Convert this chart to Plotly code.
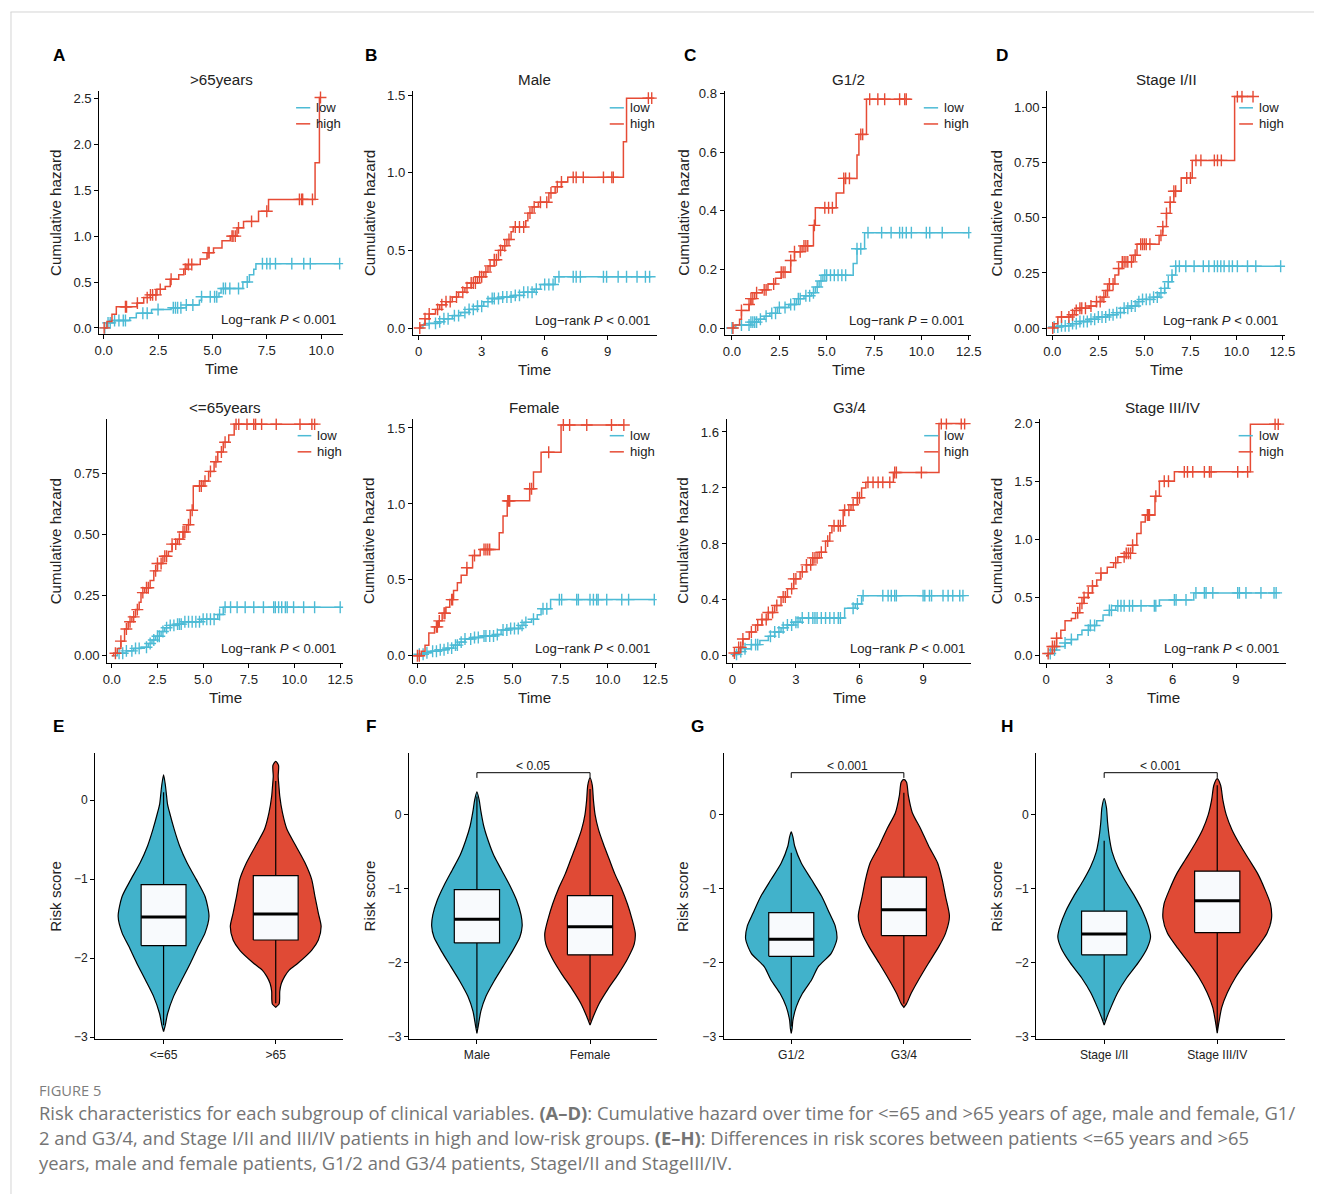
import numpy as np
import plotly.graph_objects as go

W, H = 1322, 1194          # figure size
PAGE_MARGIN = 8            # default body margin of the page
VIEW_SCALE_X, VIEW_SCALE_Y, VIEW_OFF = 0.989, 0.989, 4.6   # observed screen transform of the page
FS = 1 / VIEW_SCALE_X      # font compensation
TEAL, RED = "#4DBBD5", "#E64B35"
TEAL_FILL, RED_FILL = "#41B2CB", "#E04A35"
FONT = "Liberation Sans, Arial, sans-serif"
INK = "#222222"

# ------------------------------------------------------------------ KM data
# A  >65years
A_high_t = [0.15, 0.38, 0.58, 1.53, 1.84, 2.14, 2.45, 2.83, 3.06, 3.45, 3.68, 3.83, 4.44, 4.75, 5.05, 5.44, 5.82, 6.13, 6.43, 7.12, 7.58, 9.72, 9.92]
A_high_h = [0.07, 0.15, 0.23, 0.27, 0.33, 0.36, 0.42, 0.45, 0.53, 0.58, 0.64, 0.69, 0.75, 0.82, 0.87, 0.95, 1.00, 1.09, 1.16, 1.27, 1.40, 1.80, 2.51]
A_high_c = [0.02, 1.0, 1.05, 1.55, 2.0, 2.15, 2.25, 2.4, 2.6, 3.1, 3.75, 3.9, 4.05, 4.8, 4.85, 5.9, 5.95, 6.05, 6.2, 6.8, 7.5, 9.0, 9.1, 9.15, 9.6, 9.97]
A_low_t = [0.15, 0.5, 1.2, 1.5, 2.2, 3.1, 3.8, 4.4, 4.5, 5.3, 5.4, 6.4, 6.7, 6.9, 7.0]
A_low_h = [0.055, 0.08, 0.11, 0.16, 0.2, 0.22, 0.25, 0.30, 0.34, 0.38, 0.43, 0.50, 0.58, 0.64, 0.70]
A_low_c = [0.05, 0.2, 0.3, 0.5, 0.7, 0.9, 1.0, 1.8, 2.0, 2.5, 3.2, 3.3, 3.4, 3.55, 3.8, 4.1, 4.5, 4.9, 5.1, 5.2, 5.5, 5.6, 5.8, 6.2, 6.6, 7.3, 7.5, 7.65, 7.9, 8.65, 9.2, 9.5, 10.85]

# B  Male
B_high_t = [0.1, 0.3, 0.5, 0.8, 1.0, 1.3, 1.6, 1.9, 2.2, 2.5, 2.8, 3.1, 3.3, 3.6, 3.8, 4.0, 4.2, 4.4, 4.5, 5.1, 5.2, 5.4, 5.7, 6.2, 6.5, 6.8, 7.1, 9.75, 9.9]
B_high_h = [0.02, 0.06, 0.09, 0.12, 0.15, 0.17, 0.2, 0.23, 0.26, 0.29, 0.33, 0.36, 0.4, 0.44, 0.5, 0.53, 0.57, 0.62, 0.65, 0.69, 0.74, 0.78, 0.81, 0.87, 0.91, 0.94, 0.97, 1.2, 1.48]
B_high_c = [0.05, 0.3, 0.5, 0.9, 1.1, 1.3, 1.5, 1.8, 2.1, 2.3, 2.5, 2.6, 2.7, 2.9, 3.0, 3.2, 3.4, 3.6, 3.7, 3.9, 4.1, 4.3, 4.6, 4.8, 5.0, 5.3, 5.5, 5.8, 6.1, 6.3, 6.6, 6.8, 7.36, 7.5, 7.84, 8.8, 9.2, 9.27, 10.94, 11.1]
B_low_t = [0.2, 0.5, 0.9, 1.2, 1.6, 2.0, 2.4, 2.8, 3.1, 3.5, 4.0, 4.5, 5.0, 5.5, 5.8, 6.5]
B_low_h = [0.02, 0.03, 0.04, 0.06, 0.08, 0.1, 0.12, 0.14, 0.17, 0.19, 0.2, 0.21, 0.23, 0.25, 0.28, 0.33]
B_low_c = [0.5, 0.8, 1.0, 1.2, 1.4, 1.7, 1.9, 2.2, 2.4, 2.6, 2.8, 3.0, 3.3, 3.5, 3.6, 3.8, 4.0, 4.2, 4.4, 4.6, 4.8, 5.0, 5.2, 5.4, 5.6, 6.0, 6.2, 6.4, 6.68, 7.36, 7.5, 7.7, 8.8, 8.95, 9.5, 9.9, 10.4, 10.8, 11.0]

# C  G1/2
C_high_t = [0.1, 0.4, 0.5, 0.9, 1.0, 1.2, 1.6, 1.9, 2.3, 2.6, 3.1, 3.3, 3.7, 4.3, 4.4, 5.5, 5.9, 6.6, 6.7, 7.1]
C_high_h = [0.01, 0.03, 0.06, 0.08, 0.1, 0.12, 0.13, 0.15, 0.17, 0.19, 0.23, 0.26, 0.28, 0.35, 0.41, 0.46, 0.51, 0.59, 0.66, 0.78]
C_high_c = [0.05, 0.5, 0.9, 1.0, 1.1, 1.3, 1.7, 1.8, 2.2, 2.6, 2.7, 2.8, 3.1, 3.3, 3.6, 3.8, 3.9, 4.0, 4.35, 4.9, 5.1, 5.3, 5.9, 6.0, 6.2, 6.8, 6.9, 7.27, 7.7, 8.06, 8.85, 9.12, 9.2]
C_low_t = [0.2, 1.0, 1.4, 1.7, 2.0, 2.4, 3.0, 3.4, 3.8, 4.2, 4.4, 4.6, 4.8, 6.4, 6.6, 7.0]
C_low_h = [0.01, 0.02, 0.03, 0.04, 0.05, 0.07, 0.08, 0.1, 0.11, 0.12, 0.14, 0.16, 0.18, 0.22, 0.27, 0.325]
C_low_c = [0.0, 0.5, 0.9, 1.0, 1.1, 1.2, 1.3, 1.5, 1.8, 2.1, 2.3, 2.5, 2.8, 3.1, 3.3, 3.5, 3.6, 3.9, 4.1, 4.3, 4.5, 4.7, 4.9, 5.0, 5.2, 5.4, 5.6, 5.8, 6.0, 6.6, 6.8, 7.18, 7.9, 8.4, 8.85, 9.0, 9.2, 9.47, 10.26, 10.44, 11.1, 12.5]

# D  Stage I/II
D_high_t = [0.1, 0.3, 1.0, 1.2, 1.5, 2.0, 2.4, 2.7, 2.9, 3.1, 3.4, 3.6, 3.8, 4.4, 4.6, 5.8, 6.0, 6.2, 6.4, 6.6, 7.0, 7.6, 9.9]
D_high_h = [0.02, 0.05, 0.06, 0.08, 0.09, 0.1, 0.12, 0.14, 0.17, 0.2, 0.24, 0.27, 0.3, 0.33, 0.38, 0.42, 0.46, 0.52, 0.57, 0.62, 0.68, 0.76, 1.05]
D_high_c = [0.02, 0.5, 0.9, 1.1, 1.3, 1.5, 1.6, 1.8, 2.1, 2.4, 2.6, 2.8, 3.0, 3.1, 3.3, 3.6, 3.8, 3.9, 4.0, 4.1, 4.3, 4.5, 4.8, 4.9, 5.0, 5.1, 5.3, 5.9, 6.0, 6.2, 6.4, 6.6, 6.7, 7.3, 7.5, 7.8, 8.07, 8.8, 8.97, 9.18, 10.05, 10.3, 10.9]
D_low_t = [0.1, 0.5, 1.0, 1.5, 2.0, 2.5, 3.0, 3.5, 3.9, 4.3, 4.6, 4.9, 5.5, 5.8, 6.1, 6.3, 6.5, 6.7]
D_low_h = [0.005, 0.01, 0.02, 0.03, 0.04, 0.05, 0.06, 0.07, 0.09, 0.1, 0.12, 0.13, 0.14, 0.16, 0.18, 0.21, 0.24, 0.28]
D_low_c = [0.1, 0.3, 0.5, 0.7, 0.9, 1.1, 1.3, 1.5, 1.7, 1.9, 2.1, 2.3, 2.5, 2.7, 2.9, 3.1, 3.3, 3.5, 3.7, 3.9, 4.1, 4.3, 4.5, 4.7, 4.9, 5.1, 5.3, 5.5, 5.7, 5.9, 6.1, 6.3, 6.5, 6.7, 6.9, 7.25, 7.7, 8.2, 8.5, 8.8, 8.97, 9.15, 9.33, 9.6, 9.78, 10.05, 10.6, 11.05, 12.4]

# <=65years
E_high_t = [0.1, 0.3, 0.5, 0.7, 0.9, 1.1, 1.3, 1.5, 1.6, 1.8, 2.1, 2.3, 2.5, 2.8, 3.1, 3.3, 3.6, 3.9, 4.1, 4.3, 4.46, 5.0, 5.3, 5.6, 5.8, 6.1, 6.4, 6.7]
E_high_h = [0.01, 0.03, 0.06, 0.11, 0.14, 0.16, 0.19, 0.22, 0.26, 0.28, 0.31, 0.35, 0.38, 0.41, 0.43, 0.46, 0.48, 0.51, 0.54, 0.6, 0.7, 0.72, 0.76, 0.8, 0.84, 0.88, 0.91, 0.955]
E_high_c = [0.2, 0.5, 0.8, 1.0, 1.2, 1.4, 1.7, 1.9, 2.0, 2.4, 2.5, 2.7, 2.9, 3.0, 3.3, 3.5, 3.7, 3.9, 4.0, 4.2, 4.4, 4.8, 4.9, 5.1, 5.4, 5.7, 6.0, 6.2, 6.8, 6.95, 7.4, 7.77, 7.87, 8.2, 9.0, 10.3, 10.95, 11.1]
E_low_t = [0.3, 0.8, 1.2, 1.6, 2.0, 2.2, 2.4, 2.7, 2.9, 3.2, 3.6, 3.9, 4.9, 5.8, 6.1]
E_low_h = [0.01, 0.02, 0.03, 0.035, 0.05, 0.065, 0.08, 0.1, 0.115, 0.125, 0.13, 0.14, 0.15, 0.17, 0.2]
E_low_c = [0.4, 0.6, 0.8, 1.1, 1.3, 1.5, 1.9, 2.1, 2.3, 2.5, 2.6, 2.8, 3.0, 3.2, 3.4, 3.6, 3.7, 3.8, 4.0, 4.2, 4.4, 4.6, 4.8, 5.0, 5.2, 5.4, 5.6, 5.9, 6.2, 6.5, 6.86, 7.3, 7.77, 8.3, 8.86, 8.95, 9.13, 9.3, 9.5, 9.6, 9.95, 10.5, 11.1, 12.5]

# Female
F_high_t = [0.2, 0.4, 0.6, 0.9, 1.1, 1.3, 1.5, 1.7, 1.9, 2.1, 2.3, 2.6, 2.9, 3.3, 4.3, 4.5, 4.72, 5.9, 6.1, 6.5, 7.55]
F_high_h = [0.03, 0.07, 0.15, 0.19, 0.23, 0.28, 0.32, 0.37, 0.43, 0.48, 0.53, 0.58, 0.66, 0.7, 0.81, 0.92, 1.02, 1.1, 1.21, 1.34, 1.52]
F_high_c = [0.0, 0.1, 1.0, 1.05, 1.15, 1.4, 1.45, 1.8, 1.85, 2.6, 3.0, 3.5, 3.6, 3.7, 3.8, 4.75, 4.8, 4.85, 5.9, 6.0, 6.9, 7.67, 8.0, 8.9, 10.2, 10.85]
F_low_t = [0.1, 0.4, 0.7, 1.1, 1.5, 1.9, 2.2, 2.5, 2.9, 3.4, 4.1, 4.4, 4.8, 5.4, 5.6, 6.0, 6.3, 6.5, 7.0]
F_low_h = [0.01, 0.02, 0.03, 0.04, 0.05, 0.07, 0.09, 0.11, 0.12, 0.13, 0.14, 0.17, 0.18, 0.2, 0.22, 0.24, 0.27, 0.31, 0.37]
F_low_c = [0.1, 0.3, 0.5, 0.8, 1.0, 1.2, 1.4, 1.6, 1.8, 2.0, 2.1, 2.3, 2.5, 2.8, 3.0, 3.2, 3.5, 3.6, 3.8, 4.0, 4.2, 4.5, 4.7, 4.9, 5.1, 5.3, 5.5, 5.7, 6.1, 6.6, 6.8, 7.46, 7.58, 8.37, 8.46, 9.07, 9.25, 9.42, 9.5, 9.95, 10.74, 11.1, 12.45]

# G3/4
G_high_t = [0.1, 0.3, 0.5, 0.8, 1.1, 1.4, 1.7, 2.0, 2.3, 2.6, 2.9, 3.2, 3.5, 3.8, 4.1, 4.4, 4.6, 4.7, 5.23, 5.6, 5.9, 6.1, 6.3, 7.6, 9.75]
G_high_h = [0.02, 0.06, 0.12, 0.17, 0.22, 0.26, 0.31, 0.36, 0.42, 0.48, 0.55, 0.6, 0.65, 0.7, 0.74, 0.82, 0.88, 0.93, 1.04, 1.08, 1.13, 1.2, 1.24, 1.31, 1.66]
G_high_c = [0.1, 0.3, 0.4, 0.5, 0.9, 1.2, 1.4, 1.6, 1.7, 1.9, 2.1, 2.4, 2.5, 2.8, 2.9, 3.0, 3.3, 3.5, 3.7, 3.8, 3.9, 4.0, 4.2, 4.5, 4.8, 5.0, 5.1, 5.3, 5.5, 5.7, 5.9, 6.0, 6.4, 6.64, 6.88, 7.1, 7.43, 7.66, 7.74, 8.92, 9.86, 10.1, 10.8, 10.96]
G_low_t = [0.1, 0.3, 0.6, 0.9, 1.3, 1.7, 2.0, 2.3, 2.6, 2.9, 3.2, 5.3, 5.8, 6.1]
G_low_h = [0.01, 0.03, 0.05, 0.08, 0.11, 0.14, 0.17, 0.2, 0.22, 0.24, 0.27, 0.34, 0.37, 0.43]
G_low_c = [0.2, 0.4, 0.6, 0.9, 1.1, 1.2, 1.8, 2.0, 2.2, 2.4, 2.6, 2.8, 3.0, 3.1, 3.3, 3.6, 3.8, 3.9, 4.0, 4.2, 4.4, 4.6, 4.8, 5.0, 5.1, 5.7, 5.9, 6.17, 7.1, 7.35, 7.5, 7.66, 7.74, 9.0, 9.08, 9.3, 9.4, 9.94, 10.18, 10.4, 10.73, 10.88]

# Stage III/IV
H_high_t = [0.1, 0.3, 0.5, 0.7, 0.9, 1.2, 1.4, 1.6, 1.8, 2.0, 2.2, 2.4, 2.6, 2.9, 3.2, 3.4, 3.8, 4.1, 4.3, 4.5, 4.7, 5.16, 5.37, 6.08, 9.68]
H_high_h = [0.02, 0.08, 0.15, 0.22, 0.3, 0.32, 0.37, 0.45, 0.5, 0.54, 0.6, 0.65, 0.71, 0.76, 0.8, 0.85, 0.88, 0.95, 1.05, 1.15, 1.21, 1.37, 1.5, 1.58, 1.99]
H_high_c = [0.1, 0.3, 0.4, 0.5, 1.5, 1.7, 1.8, 2.0, 2.2, 2.6, 3.3, 3.7, 3.8, 3.9, 4.0, 4.1, 4.8, 4.85, 4.9, 5.2, 5.6, 5.8, 6.55, 6.7, 6.95, 7.5, 7.74, 7.82, 9.08, 9.55, 10.85, 11.0]
H_low_t = [0.1, 0.3, 0.5, 0.9, 1.2, 1.5, 1.7, 2.1, 2.4, 2.7, 3.0, 3.3, 5.37, 7.0]
H_low_h = [0.02, 0.05, 0.08, 0.11, 0.14, 0.18, 0.22, 0.26, 0.3, 0.35, 0.39, 0.43, 0.48, 0.54]
H_low_c = [0.2, 0.4, 0.9, 1.2, 2.0, 2.1, 2.3, 3.0, 3.1, 3.4, 3.55, 3.7, 3.95, 4.1, 4.5, 5.13, 5.2, 6.08, 6.16, 6.63, 7.1, 7.5, 7.58, 7.9, 9.08, 9.16, 9.47, 10.18, 10.8, 10.9]

KM_TITLES = [">65years", "Male", "G1/2", "Stage I/II", "<=65years", "Female", "G3/4", "Stage III/IV"]
KM_PVALUES = ["< 0.001", "< 0.001", "= 0.001", "< 0.001", "< 0.001", "< 0.001", "< 0.001", "< 0.001"]
KM_XTICKS = [[0, 2.5, 5, 7.5, 10], [0, 3, 6, 9], [0, 2.5, 5, 7.5, 10, 12.5], [0, 2.5, 5, 7.5, 10, 12.5],
             [0, 2.5, 5, 7.5, 10, 12.5], [0, 2.5, 5, 7.5, 10, 12.5], [0, 3, 6, 9], [0, 3, 6, 9]]
KM_YTICKS = [[0, 0.5, 1, 1.5, 2, 2.5], [0, 0.5, 1, 1.5], [0, 0.2, 0.4, 0.6, 0.8], [0, 0.25, 0.5, 0.75, 1.0],
             [0, 0.25, 0.5, 0.75], [0, 0.5, 1, 1.5], [0, 0.4, 0.8, 1.2, 1.6], [0, 0.5, 1, 1.5, 2]]

# ------------------------------------------------------------------ violin data
VIO_CATS = [["<=65", ">65"], ["Male", "Female"], ["G1/2", "G3/4"], ["Stage I/II", "Stage III/IV"]]
VIO_P = [None, "< 0.05", "< 0.001", "< 0.001"]
# density outlines: risk-score levels and half widths (category units)
E1_y = [0.32, 0.2, 0.09, -0.05, -0.16, -0.37, -0.58, -0.79, -1.0, -1.22, -1.47, -1.68, -1.85, -2.06, -2.27, -2.48, -2.7, -2.85, -2.93]
E1_w = [0, 0.015, 0.024, 0.035, 0.054, 0.095, 0.143, 0.208, 0.29, 0.37, 0.405, 0.37, 0.31, 0.24, 0.164, 0.09, 0.036, 0.015, 0]
E2_y = [0.49, 0.44, 0.3, 0.15, 0.05, -0.16, -0.37, -0.58, -0.79, -1.0, -1.22, -1.43, -1.6, -1.77, -1.9, -2.06, -2.15, -2.23, -2.32, -2.42, -2.52, -2.58, -2.62]
E2_w = [0, 0.025, 0.022, 0.03, 0.036, 0.06, 0.10, 0.18, 0.26, 0.32, 0.35, 0.38, 0.405, 0.38, 0.32, 0.2, 0.12, 0.08, 0.05, 0.036, 0.035, 0.03, 0]
F1_y = [0.31, 0.2, 0.05, -0.15, -0.35, -0.55, -0.75, -0.95, -1.15, -1.35, -1.5, -1.65, -1.85, -2.05, -2.25, -2.45, -2.65, -2.85, -2.95]
F1_w = [0, 0.02, 0.035, 0.06, 0.1, 0.15, 0.22, 0.29, 0.35, 0.39, 0.40, 0.38, 0.31, 0.23, 0.15, 0.08, 0.035, 0.012, 0]
F2_y = [0.5, 0.4, 0.2, 0.0, -0.2, -0.4, -0.6, -0.8, -1.0, -1.2, -1.4, -1.6, -1.75, -1.95, -2.15, -2.35, -2.55, -2.72, -2.84]
F2_w = [0, 0.02, 0.03, 0.045, 0.075, 0.12, 0.17, 0.22, 0.28, 0.33, 0.37, 0.40, 0.39, 0.33, 0.25, 0.16, 0.08, 0.03, 0]
G1_y = [-0.23, -0.3, -0.42, -0.65, -0.87, -1.1, -1.33, -1.5, -1.68, -1.87, -2.05, -2.23, -2.41, -2.59, -2.77, -2.88, -2.95]
G1_w = [0, 0.015, 0.03, 0.089, 0.178, 0.27, 0.34, 0.39, 0.405, 0.355, 0.24, 0.18, 0.10, 0.045, 0.015, 0.008, 0]
G2_y = [0.48, 0.44, 0.26, 0.03, -0.19, -0.42, -0.65, -0.87, -1.1, -1.37, -1.6, -1.78, -2.0, -2.23, -2.41, -2.55, -2.6]
G2_w = [0, 0.024, 0.04, 0.075, 0.15, 0.22, 0.3, 0.34, 0.37, 0.405, 0.37, 0.31, 0.22, 0.13, 0.065, 0.024, 0]
H1_y = [0.22, 0.1, -0.1, -0.3, -0.5, -0.7, -0.9, -1.1, -1.3, -1.5, -1.65, -1.8, -2.0, -2.2, -2.4, -2.6, -2.75, -2.84]
H1_w = [0, 0.02, 0.03, 0.045, 0.07, 0.12, 0.19, 0.27, 0.34, 0.39, 0.41, 0.38, 0.3, 0.2, 0.12, 0.06, 0.02, 0]
H2_y = [0.49, 0.4, 0.2, 0.0, -0.2, -0.4, -0.6, -0.8, -1.0, -1.2, -1.4, -1.6, -1.8, -2.0, -2.2, -2.4, -2.6, -2.8, -2.95]
H2_w = [0, 0.03, 0.05, 0.08, 0.13, 0.2, 0.28, 0.36, 0.42, 0.47, 0.48, 0.44, 0.35, 0.25, 0.16, 0.09, 0.04, 0.015, 0]
# box statistics: q1, median, q3, lower whisker, upper whisker
E1_box = [-1.84, -1.48, -1.07, -2.85, 0.10]
E2_box = [-1.77, -1.44, -0.955, -2.57, 0.24]
F1_box = [-1.73, -1.41, -1.01, -2.88, 0.25]
F2_box = [-1.89, -1.51, -1.09, -2.78, 0.35]
G1_box = [-1.91, -1.68, -1.32, -2.86, -0.51]
G2_box = [-1.63, -1.28, -0.84, -2.55, 0.30]
H1_box = [-1.89, -1.61, -1.30, -2.78, -0.35]
H2_box = [-1.59, -1.16, -0.76, -2.90, 0.40]

# ------------------------------------------------------------------ layout (target pixels)
KM_BOX = [(99, 343, 90, 333), (413, 657, 90, 334), (725, 972, 90, 334), (1048, 1286, 90, 334),
          (107, 343, 417, 661), (413, 657, 417, 661), (727, 972, 417, 661), (1041, 1287, 417, 661)]
KM_XR = [(-0.198, 11.01), (-0.27, 11.34), (-0.385, 12.64), (-0.27, 12.64),
         (-0.24, 12.66), (-0.23, 12.58), (-0.264, 11.28), (-0.27, 11.37)]
KM_YR = [(-0.07, 2.584), (-0.047, 1.528), (-0.025, 0.809), (-0.033, 1.076),
         (-0.031, 0.978), (-0.049, 1.562), (-0.053, 1.696), (-0.064, 2.038)]
VIO_BOX = [(95, 343, 751, 1036), (409, 657, 751, 1036), (724, 972, 751, 1036), (1037, 1286, 751, 1036)]
VIO_XR = [(-0.608, 1.601), (-0.60, 1.59), (-0.6, 1.6), (-0.6, 1.6)]
VIO_YR = [(-3.025, 0.59), (-3.03, 0.83), (-3.03, 0.83), (-3.03, 0.83)]
COL_YTITLE_X = [55, 369, 683, 997]
LETTERS = [("A", 59, 54), ("B", 371, 54), ("C", 690, 54), ("D", 1003, 54),
           ("E", 58, 724), ("F", 371, 724), ("G", 698, 724), ("H", 1008, 724)]

fig = go.Figure()
shapes, annos = [], []


def sid(n):
    return "" if n == 1 else str(n)


def px(xr):
    return ((xr - VIEW_OFF) / VIEW_SCALE_X - PAGE_MARGIN) / W


def py(yr):
    return 1 - ((yr - VIEW_OFF) / VIEW_SCALE_Y - PAGE_MARGIN) / H


def fnt(size, color=INK, family=FONT):
    return dict(family=family, size=size * FS, color=color)


def axis_common(size=13):
    return dict(showline=True, linecolor="black", linewidth=1.2, ticks="outside", ticklen=4,
                tickwidth=1, tickcolor="black", showgrid=False, zeroline=False, tickfont=fnt(size))


def ann(text, x, y, size, **kw):
    d = dict(text=text, x=x, y=y, xref="paper", yref="paper", showarrow=False, xanchor="center",
             yanchor="middle", font=fnt(size))
    d.update(kw)
    return d


km_sets = [
    (A_high_t, A_high_h, A_high_c, A_low_t, A_low_h, A_low_c),
    (B_high_t, B_high_h, B_high_c, B_low_t, B_low_h, B_low_c),
    (C_high_t, C_high_h, C_high_c, C_low_t, C_low_h, C_low_c),
    (D_high_t, D_high_h, D_high_c, D_low_t, D_low_h, D_low_c),
    (E_high_t, E_high_h, E_high_c, E_low_t, E_low_h, E_low_c),
    (F_high_t, F_high_h, F_high_c, F_low_t, F_low_h, F_low_c),
    (G_high_t, G_high_h, G_high_c, G_low_t, G_low_h, G_low_c),
    (H_high_t, H_high_h, H_high_c, H_low_t, H_low_h, H_low_c),
]


def add_km(n, t, h, c, color):
    t = np.asarray(t, float)
    h = np.asarray(h, float)
    c = np.asarray(c, float)
    end = max(c.max(), t.max())
    xs = np.concatenate([[0.0], t, [end]])
    ys = np.concatenate([[0.0], h, [h[-1]]])
    idx = np.searchsorted(t, c, side="right")
    cy = np.where(idx > 0, h[np.maximum(idx - 1, 0)], 0.0)
    xa, ya = "x" + sid(n), "y" + sid(n)
    fig.add_trace(go.Scatter(x=xs, y=ys, mode="lines", line=dict(color=color, width=1.5, shape="hv"),
                             xaxis=xa, yaxis=ya, showlegend=False, hoverinfo="skip"))
    fig.add_trace(go.Scatter(x=c, y=cy, mode="markers",
                             marker=dict(symbol="cross-thin", size=8.5, color=color, line=dict(color=color, width=1.4)),
                             xaxis=xa, yaxis=ya, showlegend=False, hoverinfo="skip"))


layout_axes = {}
for i in range(8):
    n = i + 1
    x0, x1, y0, y1 = KM_BOX[i]
    ht, hh, hc, lt, lh, lc = km_sets[i]
    add_km(n, lt, lh, lc, TEAL)
    add_km(n, ht, hh, hc, RED)
    xt = KM_XTICKS[i]
    yt = KM_YTICKS[i]
    xfmt = ".1f" if any(v != int(v) for v in xt) else "d"
    yfmt = ".2f" if any(round(v * 100) % 10 for v in yt) else ".1f"
    xa = axis_common()
    xa.update(domain=[px(x0), px(x1)], range=list(KM_XR[i]), anchor="y" + sid(n), tickvals=xt, tickformat=xfmt)
    ya = axis_common()
    ya.update(domain=[py(y1), py(y0)], range=list(KM_YR[i]), anchor="x" + sid(n), tickvals=yt, tickformat=yfmt)
    layout_axes["xaxis" + sid(n)] = xa
    layout_axes["yaxis" + sid(n)] = ya
    dom = "x" + sid(n) + " domain"
    ydom = "y" + sid(n) + " domain"
    cx = (x0 + x1) / 2
    annos.append(ann(KM_TITLES[i].replace("<", "&lt;").replace(">", "&gt;"), px(cx), py(y0 - 11), 15))
    annos.append(ann("Time", px(cx), py(y1 + 34.5), 15))
    annos.append(ann("Cumulative hazard", px(COL_YTITLE_X[i % 4]), py((y0 + y1) / 2), 15, textangle=-90))
    annos.append(dict(text="Log\u2212rank <i>P</i> " + KM_PVALUES[i], x=0.98, y=0.062, xref=dom, yref=ydom,
                      xanchor="right", yanchor="middle", showarrow=False, font=fnt(13)))
    for k, (lab, col) in enumerate([("low", TEAL), ("high", RED)]):
        yy = 0.93 - 0.066 * k
        shapes.append(dict(type="line", xref=dom, yref=ydom, x0=0.807, x1=0.865, y0=yy, y1=yy,
                           line=dict(color=col, width=1.5)))
        annos.append(dict(text=lab, x=0.88, y=yy, xref=dom, yref=ydom, xanchor="left", yanchor="middle",
                          showarrow=False, font=fnt(13)))

vio_sets = [
    ((E1_y, E1_w, E1_box), (E2_y, E2_w, E2_box)),
    ((F1_y, F1_w, F1_box), (F2_y, F2_w, F2_box)),
    ((G1_y, G1_w, G1_box), (G2_y, G2_w, G2_box)),
    ((H1_y, H1_w, H1_box), (H2_y, H2_w, H2_box)),
]

BOX_HALF = 0.2
for j in range(4):
    n = 9 + j
    x0, x1, y0, y1 = VIO_BOX[j]
    xa_id, ya_id = "x" + sid(n), "y" + sid(n)
    common = dict(xaxis=xa_id, yaxis=ya_id, showlegend=False, hoverinfo="skip")
    for ci, ((vy, vw, bx), fillc) in enumerate(zip(vio_sets[j], [TEAL_FILL, RED_FILL])):
        vy = np.asarray(vy, float)
        vw = np.asarray(vw, float)
        xs = np.concatenate([ci - vw, (ci + vw)[::-1]])
        ys = np.concatenate([vy, vy[::-1]])
        fig.add_trace(go.Scatter(x=xs, y=ys, mode="lines", fill="toself", fillcolor=fillc,
                                 line=dict(color="black", width=1.2, shape="spline", smoothing=0.7), **common))
        q1, med, q3, lf, uf = bx
        fig.add_trace(go.Scatter(x=[ci, ci, None, ci, ci], y=[q3, uf, None, lf, q1], mode="lines",
                                 line=dict(color="black", width=1.2), **common))
        fig.add_trace(go.Scatter(x=[ci - BOX_HALF, ci + BOX_HALF, ci + BOX_HALF, ci - BOX_HALF, ci - BOX_HALF],
                                 y=[q1, q1, q3, q3, q1], mode="lines", fill="toself", fillcolor="#F8FAFD",
                                 line=dict(color="black", width=1.2), **common))
        fig.add_trace(go.Scatter(x=[ci - BOX_HALF, ci + BOX_HALF], y=[med, med], mode="lines",
                                 line=dict(color="black", width=3), **common))
    xa = axis_common(12)
    xa.update(domain=[px(x0), px(x1)], range=list(VIO_XR[j]), anchor=ya_id, tickvals=[0, 1],
              ticktext=VIO_CATS[j])
    ya = axis_common(12)
    ya.update(domain=[py(y1), py(y0)], range=list(VIO_YR[j]), anchor=xa_id, tickvals=[0, -1, -2, -3])
    layout_axes["xaxis" + sid(n)] = xa
    layout_axes["yaxis" + sid(n)] = ya
    annos.append(ann("Risk score", px(COL_YTITLE_X[j]), py((y0 + y1) / 2), 15, textangle=-90))
    if VIO_P[j]:
        yb, yt_ = 0.50, 0.57
        shapes.append(dict(type="path", xref=xa_id, yref=ya_id,
                           path=f"M 0,{yb} L 0,{yt_} L 1,{yt_} L 1,{yb}", line=dict(color="black", width=1)))
        annos.append(dict(text=VIO_P[j], x=0.5, y=yt_, xref=xa_id, yref=ya_id, xanchor="center", yanchor="bottom",
                          showarrow=False, yshift=-2, font=fnt(12)))

for lab, lx, ly in LETTERS:
    annos.append(ann("<b>" + lab + "</b>", px(lx), py(ly), 17, font=fnt(17, "black")))

# caption
CAP_FONT = "Open Sans, Noto Sans, sans-serif"
annos.append(ann("FIGURE 5", px(36.5), py(1087), 14.5, xanchor="left", font=fnt(14.5, "#7d7d7d", CAP_FONT)))
cap_lines = [
    "Risk characteristics for each subgroup of clinical variables. <b>(A\u2013D)</b>: Cumulative hazard over time for &lt;=65 and &gt;65 years of age, male and female, G1/",
    "2 and G3/4, and Stage I/II and III/IV patients in high and low-risk groups. <b>(E\u2013H)</b>: Differences in risk scores between patients &lt;=65 years and &gt;65",
    "years, male and female patients, G1/2 and G3/4 patients, StageI/II and StageIII/IV.",
]
for k, line in enumerate(cap_lines):
    annos.append(ann(line, px(36.5), py(1109.5 + 24.5 * k), 18.2, xanchor="left",
                     font=fnt(18.2, "#747474", CAP_FONT)))

shapes.append(dict(type="line", xref="paper", yref="paper", x0=px(10), x1=1, y0=py(11.5), y1=py(11.5),
                   line=dict(color="#d4d4d4", width=1)))
shapes.append(dict(type="line", xref="paper", yref="paper", x0=px(10.5), x1=px(10.5), y0=py(11.5), y1=0,
                   line=dict(color="#d4d4d4", width=1)))

fig.update_layout(width=W, height=H, margin=dict(l=0, r=0, t=0, b=0), paper_bgcolor="white",
                  plot_bgcolor="white", showlegend=False, shapes=shapes, annotations=annos,
                  font=dict(family=FONT, color=INK), **layout_axes)
fig.write_html("out.html")
